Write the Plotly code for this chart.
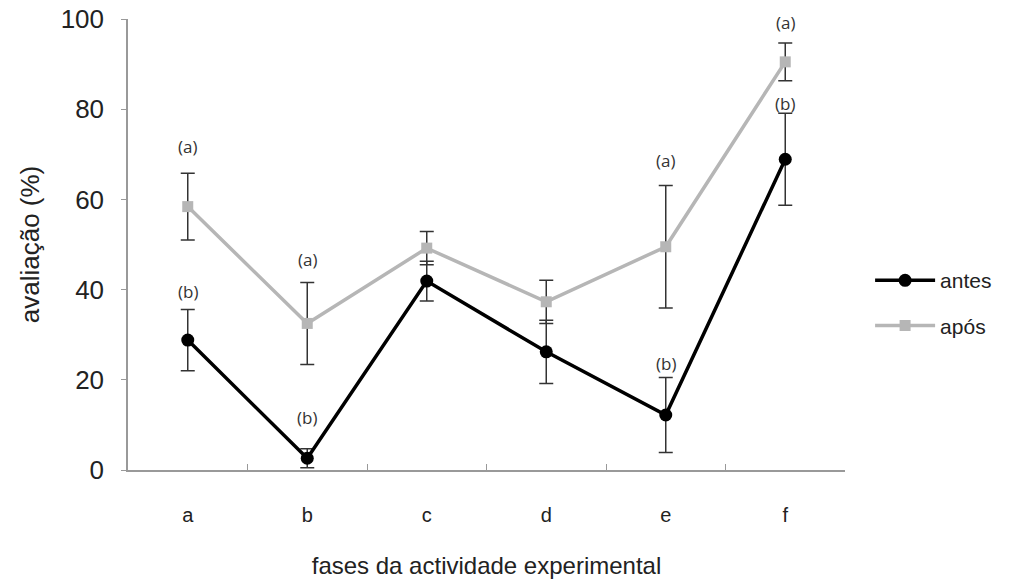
import plotly.graph_objects as go

categories = ["a", "b", "c", "d", "e", "f"]
antes = [28.8, 2.6, 41.9, 26.2, 12.2, 68.9]
antes_err = [6.8, 2.1, 4.4, 7.0, 8.3, 10.2]
apos = [58.4, 32.5, 49.2, 37.3, 49.5, 90.5]
apos_err = [7.4, 9.1, 3.7, 4.8, 13.6, 4.2]
antes_letters = ["(b)", "(b)", "", "", "(b)", "(b)"]
apos_letters = ["(a)", "(a)", "", "", "(a)", "(a)"]
y_ticks = [0, 20, 40, 60, 80, 100]

# styling: pixel offsets of the letter labels above the error-bar caps
antes_label_shift = [18, 31, 0, 0, 14, 10]
apos_label_shift = [27, 23, 0, 0, 25, 20]

fig = go.Figure()
fig.add_trace(go.Scatter(
    x=categories, y=antes, name="antes", mode="lines+markers", legendgroup="g1",
    line=dict(color="black", width=3.5),
    marker=dict(color="black", size=13, symbol="circle"),
    error_y=dict(type="data", array=antes_err, visible=True, color="#333333", thickness=1.5, width=7),
))
fig.add_trace(go.Scatter(
    x=categories, y=apos, name="após", mode="lines+markers", legendgroup="g2",
    line=dict(color="#b6b6b6", width=3.5),
    marker=dict(color="#b6b6b6", size=11, symbol="square"),
    error_y=dict(type="data", array=apos_err, visible=True, color="#333333", thickness=1.5, width=7),
))

ann_font = dict(family="Open Sans, Liberation Sans, sans-serif", size=17, color="#333333")
for cat, v, e, t, s in zip(categories, antes, antes_err, antes_letters, antes_label_shift):
    if t:
        fig.add_annotation(x=cat, y=v + e, text=t, showarrow=False, yshift=s, font=ann_font)
for cat, v, e, t, s in zip(categories, apos, apos_err, apos_letters, apos_label_shift):
    if t:
        fig.add_annotation(x=cat, y=v + e, text=t, showarrow=False, yshift=s, font=ann_font)

fig.update_layout(
    width=1009, height=582,
    margin=dict(l=128, r=159, t=19, b=112),
    paper_bgcolor="white", plot_bgcolor="white",
    font=dict(family="Liberation Sans, Arial, sans-serif", color="#222222"),
    showlegend=True,
    legend=dict(x=1.035, y=0.37, xanchor="left", yanchor="middle",
                font=dict(size=21, color="#222222"), tracegroupgap=15,
                itemwidth=60),
)
fig.update_xaxes(
    type="category", range=[-0.5, 5.5], automargin=False,
    showline=True, linecolor="#999999", linewidth=1.5,
    ticks="inside", ticklen=6, tickcolor="#999999", tickson="boundaries",
    showgrid=False, ticklabelstandoff=26,
    tickfont=dict(size=20, color="#222222"),
    title=dict(text="fases da actividade experimental", standoff=32,
               font=dict(size=24, color="#222222")),
)
fig.update_yaxes(
    range=[0, 100], tickvals=y_ticks, automargin=False,
    showline=True, linecolor="#999999", linewidth=1.5,
    ticks="outside", ticklen=5, tickcolor="#999999",
    showgrid=False, zeroline=False, ticklabelstandoff=12,
    tickfont=dict(size=26, color="#222222"),
    title=dict(text="avaliação (%)", standoff=14, font=dict(size=26, color="#222222")),
)

fig.write_html("out.html", config={"displayModeBar": False},
               post_script="document.body.style.margin='0';")
